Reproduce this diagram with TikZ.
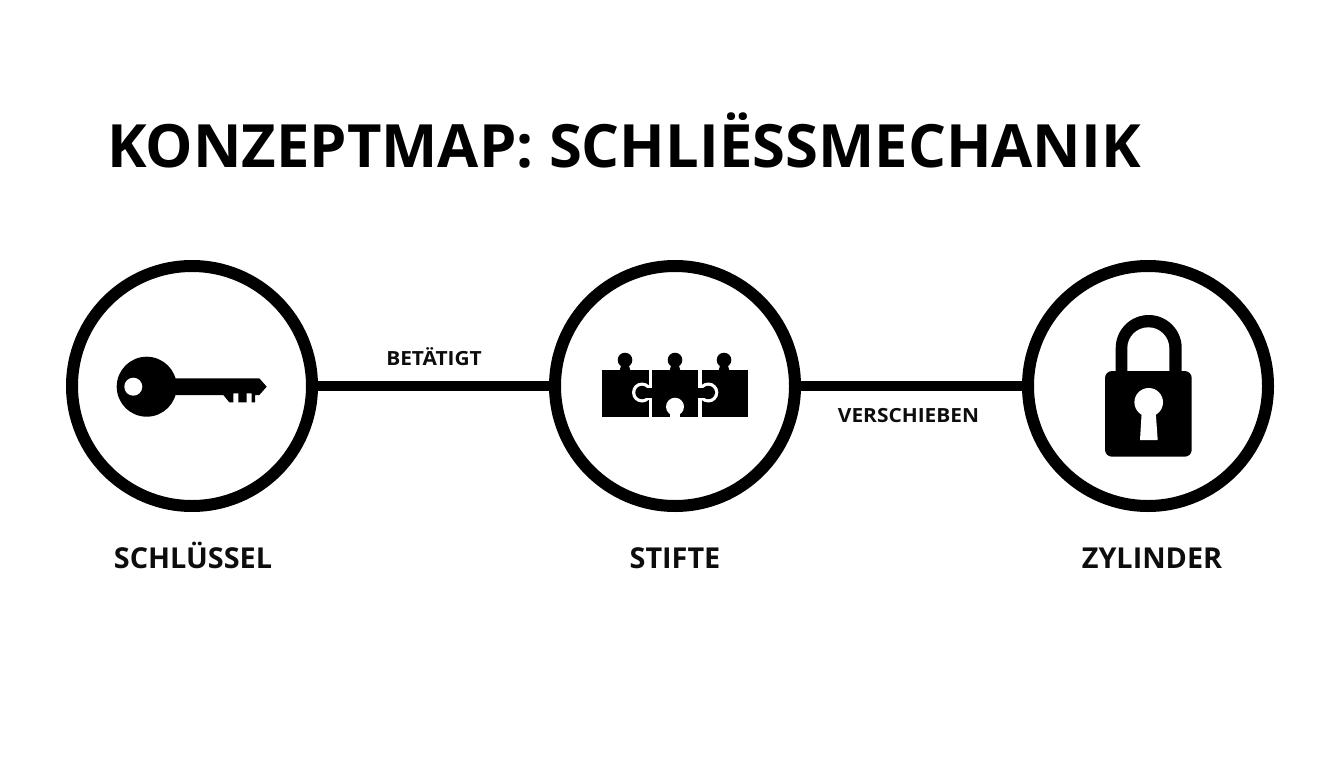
\documentclass[tikz,border=0pt]{standalone}
\usepackage{fontspec}
\setmainfont{Open Sans}
\tikzset{
  concept/.style={circle, draw=black, line width=12pt, minimum size=240pt, inner sep=0pt, outer sep=0pt},
  link/.style={line width=10pt, draw=black},
  titletext/.style={font=\fontsize{59.7}{60}\selectfont\bfseries, text=black, inner sep=0pt, anchor=base},
  nametext/.style={font=\fontsize{28.8}{29}\selectfont\bfseries, text=black!95, inner sep=0pt, anchor=base},
  linktext/.style={font=\fontsize{19.5}{20}\selectfont\bfseries\addfontfeature{FakeStretch=1.07}, text=black!95, inner sep=0pt, anchor=base}
}
\begin{document}
\begin{tikzpicture}[x=1pt, y=-1pt]
\useasboundingbox (0,0) rectangle (1344,768);

% Define the title
\node[titletext] (title) at (624,167) {KONZEPTMAP: SCHLIËSSMECHANIK};

% Define the circles
\node[concept] (key) at (192,386) {};
\node[concept] (pins) at (675,386) {};
\node[concept] (cylinder) at (1148,386) {};

% Draw the links
\draw[link] (key) -- (pins);
\draw[link] (pins) -- (cylinder);

% Draw the labels
\node[linktext] (actuates) at (434,365.5) {BETÄTIGT};
\node[linktext] (moves) at (908.5,422) {VERSCHIEBEN};
\node[nametext] (keyname) at (193,568.5) {SCHLÜSSEL};
\node[nametext] (pinsname) at (675,568.5) {STIFTE};
\node[nametext] (cylindername) at (1152,568.5) {ZYLINDER};

%%%%%%%%%%

% Draw the key
\fill[black] (146.7,386.7) circle (30);
\fill[black] (170,378.3) -- (259.3,378.3) -- (266.7,386.7) -- (259.3,395) -- (255,395) -- (255,402.3)
  -- (251.7,402.3) -- (251.7,393.3) -- (246.7,393.3) -- (246.7,402.3) -- (238.3,402.3) -- (238.3,393.3)
  -- (233.3,393.3) -- (233.3,402.3) -- (229.3,402.3) -- (223.3,395) -- (170,395) -- cycle;
\fill[white] (133.3,386.7) circle (9);

%%%%%%%%%%

% Draw the outer puzzle pieces
\fill[black] (601.7,370) rectangle (648.5,416.7);
\fill[black] (701.5,370) rectangle (748.3,416.7);

% Draw the rings for the side knobs
\foreach \side in {642,708.3}
  \fill[white] (\side,392.5) circle (10);

% Draw the middle piece
\fill[black] (651.7,370) rectangle (698.3,416.7);

% Draw the side knobs
\foreach \side in {642,708.3}
  \fill[black] (\side,392.5) circle (6.7);
\fill[black] (642,387.5) rectangle (708.3,397.5);

% Draw the knobs on top
\foreach \knob in {625,675,724}
{
  \fill[black] (\knob,360) circle (7.3);
  \fill[black] (\knob-3.5,364) -- (\knob+3.5,364) -- (\knob+5.5,371) -- (\knob-5.5,371) -- cycle;
}

% Draw the hole in the bottom
\fill[white] (675,406.7) circle (9);
\fill[white] (670,408) rectangle (680,417);

%%%%%%%%%%

% Draw the padlock
\fill[black] (1115.7,375) -- (1115.7,348) arc[start angle=180, end angle=360, radius=33] -- (1181.7,375) -- cycle;
\fill[white] (1127.3,375) -- (1127.3,348.3) arc[start angle=180, end angle=360, radius=21] -- (1169.3,375) -- cycle;
\fill[black, rounded corners=7pt] (1105,371) rectangle (1191.7,456.7);
\fill[white] (1148.7,402.3) circle (14.3);
\fill[white] (1141.7,412) -- (1155.7,412) -- (1157.7,440) -- (1140,440) -- cycle;
\end{tikzpicture}
\end{document}
